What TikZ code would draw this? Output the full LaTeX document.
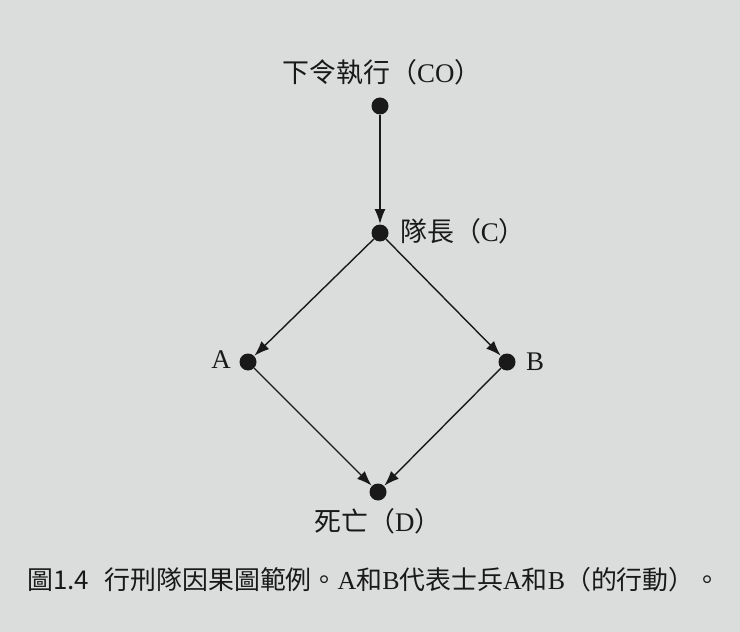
\documentclass[tikz,border=0pt]{standalone}
\usepackage{fontspec}
\setmainfont{Liberation Serif}
\newfontfamily\cjk{Noto Sans CJK TC}
\usetikzlibrary{arrows.meta}
\definecolor{paper}{RGB}{218,221,219}
\definecolor{ink}{RGB}{25,25,25}
\tikzset{
  dot/.style={circle,fill=ink,inner sep=0pt,minimum size=17bp},
  lbl/.style={text=ink,inner sep=0pt,font=\fontsize{27}{30}\selectfont},
  edge/.style={draw=ink,line width=1.4bp,-{Latex[length=15bp,width=11bp]},shorten >=0.3bp},
}
\begin{document}
\begin{tikzpicture}[x=1bp,y=-1bp]
\fill[paper] (0,0) rectangle (740,632);
\useasboundingbox (0,0) rectangle (740,632);
\node[dot] (co) at (380,106) {};
\node[dot] (c) at (380,233) {};
\node[dot] (a) at (248,362) {};
\node[dot] (b) at (507,362) {};
\node[dot] (d) at (378,492) {};
\node[lbl] (lco) at (382,72) {{\cjk 下令執行（}CO{\cjk ）}};
\node[lbl,anchor=west] (lc) at (400,231) {{\cjk 隊長（}C{\cjk ）}};
\node[lbl] (la) at (221,360) {A};
\node[lbl] (lb) at (535,362) {B};
\node[lbl] (ld) at (378,521) {{\cjk 死亡（}D{\cjk ）}};
\draw[edge] (co) -- (c);
\draw[edge] (c) -- (a);
\draw[edge] (c) -- (b);
\draw[edge] (a) -- (d);
\draw[edge] (b) -- (d);
\node[lbl,anchor=west,font=\fontsize{26}{29}\selectfont] (cap) at (27,580)
  {{\cjk 圖1.4}\hspace{0.6em}{\cjk 行刑隊因果圖範例。}A{\cjk 和}B{\cjk 代表士兵}A{\cjk 和}B{\cjk （的行動）。}};
\end{tikzpicture}
\end{document}
